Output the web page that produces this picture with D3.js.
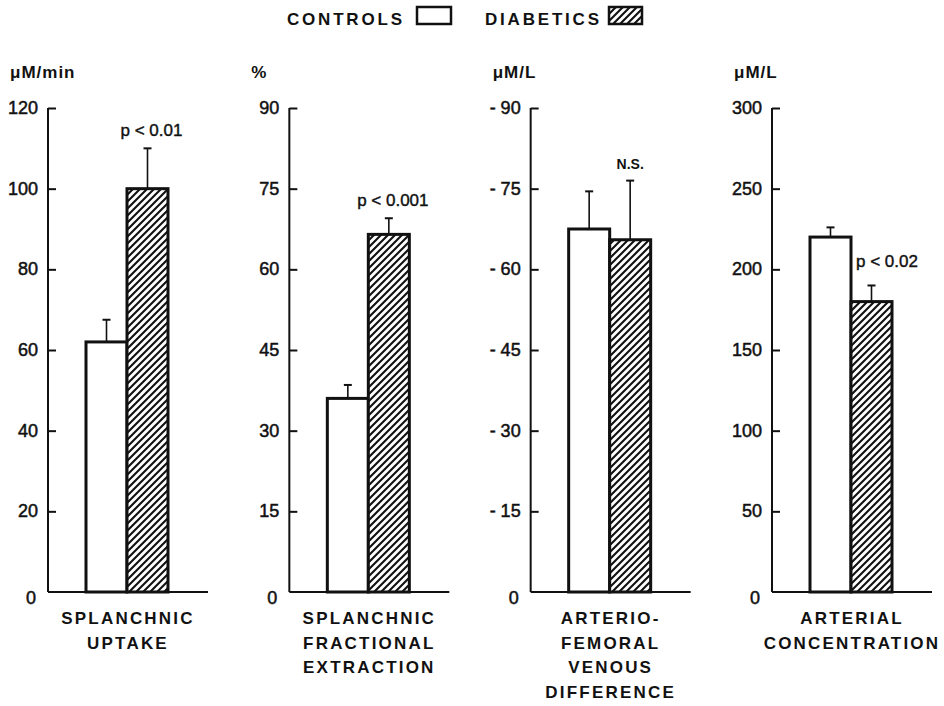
<!DOCTYPE html>
<html><head><meta charset="utf-8">
<script src="https://cdn.jsdelivr.net/npm/d3@7"></script>
<style>body{margin:0;background:#fff}</style>
</head><body>
<svg id="c" width="944" height="706"></svg>
<script>
const series = ["CONTROLS", "DIABETICS"];
const units = ["\u03bcM/min", "%", "\u03bcM/L", "\u03bcM/L"];
const yMax = [120, 90, 90, 300];
const tickStep = [20, 15, 15, 50];
const negativeTicks = [false, false, true, false];
const controls = [62, 36, 67.5, 220];
const controlsErr = [5.5, 2.5, 7, 6];
const diabetics = [100, 66.5, 65.5, 180];
const diabeticsErr = [10, 3, 11, 10];
const pLabels = ["p < 0.01", "p < 0.001", "N.S.", "p < 0.02"];
const categories = [
  ["SPLANCHNIC", "UPTAKE"],
  ["SPLANCHNIC", "FRACTIONAL", "EXTRACTION"],
  ["ARTERIO-", "FEMORAL", "VENOUS", "DIFFERENCE"],
  ["ARTERIAL", "CONCENTRATION"]
];

const svg = d3.select("#c");
const ink = "#111";
const FONT = "'Liberation Sans', Arial, sans-serif";

// hatch pattern
const defs = svg.append("defs");
const pat = defs.append("pattern").attr("id", "hatch").attr("patternUnits", "userSpaceOnUse")
  .attr("width", 7).attr("height", 7);
pat.append("rect").attr("width", 7).attr("height", 7).attr("fill", "#fff");
pat.append("path").attr("d", "M-1,1 l2,-2 M0,7 l7,-7 M6,8 l2,-2")
  .attr("stroke", ink).attr("stroke-width", 2.1);

// legend
const lg = svg.append("g").attr("font-family", FONT).attr("font-weight", "bold")
  .attr("font-size", 17).attr("letter-spacing", 2.8).attr("fill", ink);
lg.append("text").attr("x", 287).attr("y", 25).text(series[0]);
lg.append("rect").attr("x", 417).attr("y", 7).attr("width", 34).attr("height", 17)
  .attr("fill", "#fff").attr("stroke", ink).attr("stroke-width", 2.5);
lg.append("text").attr("x", 485).attr("y", 25).text(series[1]);
lg.append("rect").attr("x", 609).attr("y", 7).attr("width", 33).attr("height", 17)
  .attr("fill", "url(#hatch)").attr("stroke", ink).attr("stroke-width", 2.5);

const axisX = d3.scaleLinear().domain([0, 3]).range([48, 772]);
const y0 = 592, yTop = 108;

for (let i = 0; i < 4; i++) {
  const ax = axisX(i);
  const g = svg.append("g");
  const y = d3.scaleLinear().domain([0, yMax[i]]).range([y0, yTop]);
  const x = d3.scaleBand().domain(series).range([ax + 38, ax + 120]).padding(0);

  // axis
  const ticks = d3.range(0, yMax[i] + 0.001, tickStep[i]);
  const axis = d3.axisRight(y).tickValues(ticks).tickSize(8).tickFormat(d => "");
  const ag = g.append("g").attr("transform", `translate(${ax},0)`).call(axis);
  ag.select(".domain").attr("stroke", ink).attr("stroke-width", 2).attr("d", `M0,${y0}V${yTop}`);
  ag.selectAll(".tick line").attr("stroke", ink).attr("stroke-width", 2);
  ag.selectAll(".tick").filter(d => d === 0).select("line").remove();

  // tick labels
  g.selectAll("text.tl").data(ticks).join("text").attr("class", "tl")
    .attr("x", d => d === 0 ? ax - 12 : ax - 10)
    .attr("y", d => d === 0 ? y(d) + 12 : y(d) + 6)
    .attr("text-anchor", "end").attr("font-family", FONT).attr("font-size", 18)
    .attr("fill", ink).attr("stroke", ink).attr("stroke-width", 0.5)
    .text(d => (negativeTicks[i] && d !== 0) ? "- " + d : String(d));

  // unit label
  g.append("text").attr("x", ax - 38).attr("y", 78).attr("font-family", FONT)
    .attr("font-weight", "bold").attr("font-size", 17).attr("letter-spacing", 1).attr("fill", ink)
    .text(units[i]);

  // baseline
  g.append("line").attr("x1", ax).attr("x2", ax + 160).attr("y1", y0).attr("y2", y0)
    .attr("stroke", ink).attr("stroke-width", 2);

  const vals = [controls[i], diabetics[i]];
  const errs = [controlsErr[i], diabeticsErr[i]];
  series.forEach((s, j) => {
    const cx = x(s) + x.bandwidth() / 2;
    g.append("line").attr("x1", cx).attr("x2", cx).attr("y1", y(vals[j])).attr("y2", y(vals[j] + errs[j]))
      .attr("stroke", ink).attr("stroke-width", 1.6);
    g.append("line").attr("x1", cx - 4).attr("x2", cx + 4).attr("y1", y(vals[j] + errs[j])).attr("y2", y(vals[j] + errs[j]))
      .attr("stroke", ink).attr("stroke-width", 2);
  });
  series.forEach((s, j) => {
    g.append("rect").attr("x", x(s)).attr("width", x.bandwidth())
      .attr("y", y(vals[j])).attr("height", y0 - y(vals[j]))
      .attr("fill", j === 0 ? "#fff" : "url(#hatch)")
      .attr("stroke", ink).attr("stroke-width", 3);
  });

  // significance label
  const lab = g.append("text").attr("font-family", FONT).attr("font-size", 17).attr("fill", ink)
    .attr("stroke", ink).attr("stroke-width", 0.4);
  if (diabetics[i] >= controls[i] || pLabels[i] === "N.S.") {
    const cx = x(series[1]) + x.bandwidth() / 2 + (pLabels[i] === "N.S." ? 0 : 4);
    lab.attr("x", cx).attr("y", y(diabetics[i] + diabeticsErr[i]) - 12).attr("text-anchor", "middle");
    if (pLabels[i] === "N.S.") lab.attr("font-weight", "bold").attr("font-size", 14).attr("stroke-width", 0);
  } else {
    const mid = (y(controls[i]) + y(diabetics[i] + diabeticsErr[i])) / 2;
    lab.attr("x", x(series[1]) + 5).attr("y", mid + 6).attr("text-anchor", "start");
  }
  lab.text(pLabels[i]);

  // category label
  const catX = (x(series[0]) + x(series[1]) + x.bandwidth()) / 2;
  g.selectAll("text.cat").data(categories[i]).join("text").attr("class", "cat")
    .attr("x", catX + 1).attr("y", (d, k) => 624 + k * 24.5)
    .attr("text-anchor", "middle").attr("font-family", FONT).attr("font-weight", "bold")
    .attr("font-size", 17).attr("letter-spacing", 2.2).attr("fill", ink).text(d => d);
}
</script>
</body></html>
